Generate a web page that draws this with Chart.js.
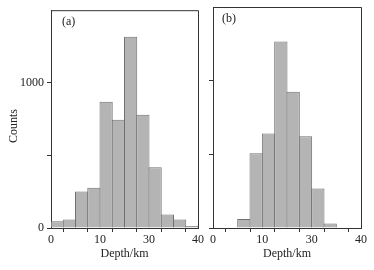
<!DOCTYPE html>
<html>
<head>
<meta charset="utf-8">
<script src="https://cdn.jsdelivr.net/npm/chart.js@4.4.1/dist/chart.umd.min.js"></script>
<style>
  body { margin: 0; background: #fff; }
  #wrap { position: relative; width: 374px; height: 270px; }
  .panel { position: absolute; top: 0; height: 270px; }
  #panelA { left: 0; width: 205px; }
  #panelB { left: 205px; width: 169px; }
</style>
</head>
<body>
<div id="wrap">
  <div class="panel" id="panelA"><canvas id="chartA" width="205" height="270"></canvas></div>
  <div class="panel" id="panelB"><canvas id="chartB" width="169" height="270"></canvas></div>
</div>
<script>
// histogram: 12 depth bins over 0-40 km
const depthMax = 40;
const binCount = 12;
const countsA = [46, 59, 252, 277, 870, 746, 1318, 780, 418, 93, 59, 14];
const countsB = [0, 0, 61, 507, 641, 1266, 925, 623, 268, 30, 4, 0];
const xTickLabels = ["0", "", "10", "", "30", "", "40"];
const yTickValues = [0, 500, 1000];
const yTickLabels = ["0", "", "1000"];
const yMax = 1500;

const serif = "'Liberation Serif', 'DejaVu Serif', serif";
const axisColor = "#333";

const frame = {
  id: "frame",
  afterDraw(chart, args, opts) {
    const { ctx, chartArea } = chart;
    ctx.save();
    ctx.strokeStyle = axisColor;
    ctx.lineWidth = 1;
    ctx.beginPath();
    ctx.moveTo(chartArea.left, chartArea.top + 0.5);
    ctx.lineTo(chartArea.right + 0.5, chartArea.top + 0.5);
    ctx.lineTo(chartArea.right + 0.5, chartArea.bottom);
    ctx.stroke();

    ctx.fillStyle = "#222";
    ctx.font = "12px " + serif;
    ctx.textBaseline = "middle";
    ctx.textAlign = "left";
    ctx.fillText(opts.tag, chartArea.left + opts.tagDx, chartArea.top + 12);

    if (opts.yTitle) {
      ctx.translate(14, 126);
      ctx.rotate(-Math.PI / 2);
      ctx.textAlign = "center";
      ctx.fillText(opts.yTitle, 0, 0);
    }
    ctx.restore();
  },
};

function makePanel(id, counts, tag, tagDx, yWidth, rightPad, showY) {
  const binWidth = depthMax / binCount;
  const points = counts.map((c, i) => ({ x: (i + 0.5) * binWidth, y: c }));

  new Chart(document.getElementById(id), {
    type: "bar",
    data: {
      datasets: [
        {
          data: points,
          backgroundColor: "#b4b4b4",
          borderColor: "#707070",
          borderWidth: 1,
          barPercentage: 1.08,
          categoryPercentage: 1,
        },
      ],
    },
    options: {
      responsive: false,
      animation: false,
      layout: { padding: { top: 7, right: rightPad, left: 0, bottom: 0 } },
      plugins: {
        legend: { display: false },
        tooltip: { enabled: false },
        frame: { tag: tag, tagDx: tagDx, yTitle: showY ? "Counts" : null },
      },
      scales: {
        x: {
          type: "linear",
          min: 0,
          max: depthMax,
          offset: false,
          afterBuildTicks: (axis) => {
            axis.ticks = xTickLabels.map((_, i) => ({
              value: (i * depthMax) / (xTickLabels.length - 1),
            }));
          },
          afterFit: (axis) => {
            axis.height = 42;
          },
          ticks: {
            autoSkip: false,
            maxRotation: 0,
            padding: 1,
            color: "#222",
            font: { family: serif, size: 12 },
            callback: (v, i) => xTickLabels[i],
          },
          grid: { drawOnChartArea: false, tickLength: 4, color: axisColor },
          border: { color: axisColor },
          title: {
            display: true,
            text: "Depth/km",
            color: "#222",
            font: { family: serif, size: 12 },
            padding: { top: 0, bottom: 9 },
          },
        },
        y: {
          min: 0,
          max: yMax,
          afterBuildTicks: (axis) => {
            axis.ticks = yTickValues.map((v) => ({ value: v }));
          },
          afterFit: (axis) => {
            axis.width = yWidth;
          },
          ticks: {
            display: showY,
            padding: 3,
            color: "#222",
            font: { family: serif, size: 12 },
            callback: (v) => yTickLabels[yTickValues.indexOf(v)],
          },
          grid: { drawOnChartArea: false, tickLength: 4, color: axisColor },
          border: { color: axisColor },
        },
      },
    },
    plugins: [frame],
  });
}

makePanel("chartA", countsA, "(a)", 11, 51, 6, true);
makePanel("chartB", countsB, "(b)", 9, 8, 13, false);
</script>
</body>
</html>
